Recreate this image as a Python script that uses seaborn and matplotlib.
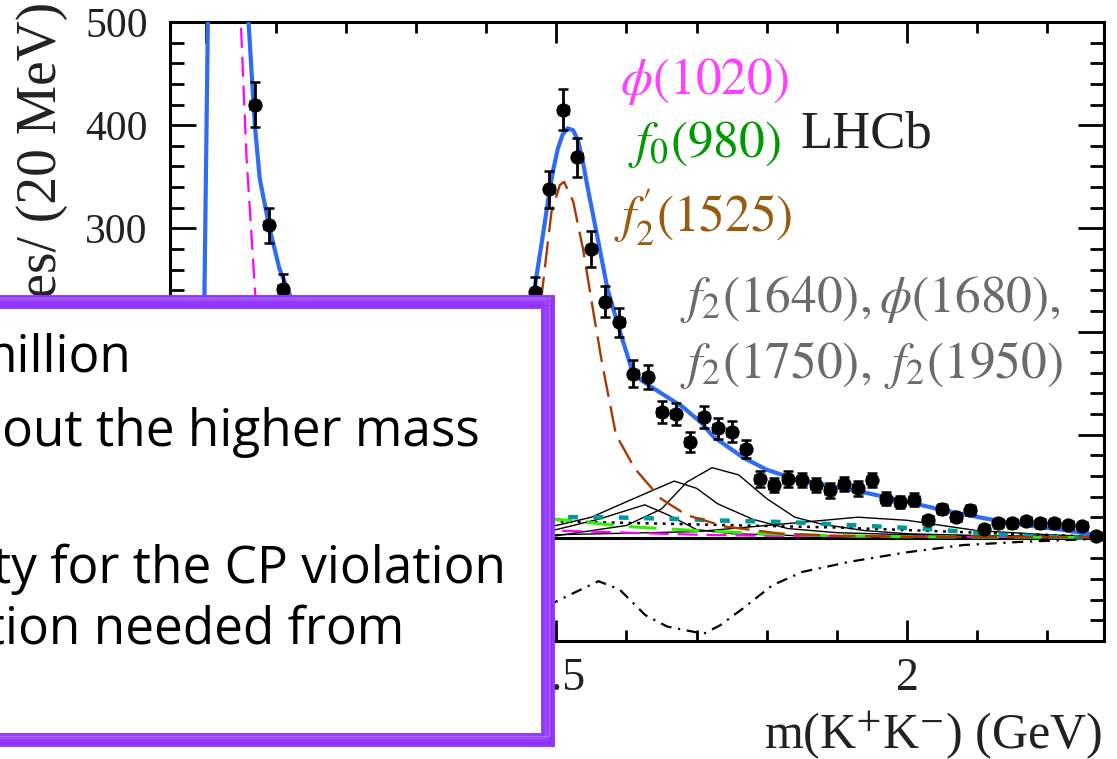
import matplotlib
matplotlib.use("Agg")
import matplotlib.pyplot as plt
import seaborn as sns
import numpy as np
import pandas as pd

# ---- data: m(K+K-) in GeV, candidates per 20 MeV ----
bin_mass = [1.07, 1.09, 1.11,
            1.47, 1.49, 1.51, 1.53, 1.55, 1.57, 1.59, 1.61, 1.63, 1.65,
            1.67, 1.69, 1.71, 1.73, 1.75, 1.77, 1.79, 1.81, 1.83, 1.85,
            1.87, 1.89, 1.91, 1.93, 1.95, 1.97, 1.99, 2.01, 2.03, 2.05,
            2.07, 2.09, 2.11, 2.13, 2.15, 2.17, 2.19, 2.21, 2.23, 2.25, 2.27]
bin_counts = [420, 303, 241,
              238, 338, 415, 369, 280, 229, 209, 159, 156, 122,
              120, 93, 117, 106, 103, 86, 57, 51, 57, 56,
              51, 46, 52, 48, 56, 38, 35, 37, 17, 28,
              20, 27, 9, 14, 14, 16, 14, 14, 12, 11, 2]
bin_errors = [22, 17, 15,
              15, 18, 20, 19, 17, 15, 14, 13, 12, 11,
              11, 10, 11, 10, 10, 9, 8, 7, 8, 7,
              7, 7, 7, 7, 7, 6, 6, 6, 4, 5,
              4, 5, 3, 4, 4, 4, 4, 4, 3, 3, 2]

# total fit
total_m = [0.990, 0.998, 1.003, 1.020, 1.061, 1.070, 1.077, 1.091, 1.105, 1.122,
           1.20, 1.30, 1.40, 1.45, 1.468, 1.480, 1.488, 1.495, 1.502, 1.509,
           1.516, 1.524, 1.531, 1.538, 1.545,
           1.559, 1.573, 1.592, 1.610, 1.636, 1.68, 1.706, 1.724, 1.766, 1.80,
           1.84, 1.893, 1.946, 2.00, 2.05, 2.11, 2.16, 2.22, 2.275]
total_v = [0, 232, 500, 3000, 500, 400, 348, 300, 261, 232,
           150, 110, 130, 190, 238, 290, 326, 355, 377, 391,
           397, 395, 385, 364, 338,
           290, 241, 197, 158, 146, 127, 112, 98, 78, 66,
           57, 50, 43, 35, 27, 19, 13, 8, 2]

# phi(1020)
phi_m = [0.990, 0.999, 1.002, 1.020, 1.050, 1.058, 1.071, 1.10, 1.20, 1.50, 1.60, 1.70, 1.80, 2.00, 2.28]
phi_v = [0, 232, 500, 2900, 500, 370, 232, 120, 30, 7, 5, 3, 2, 1, 0.5]

# f0(980)
f0_m = [1.30, 1.50, 1.60, 1.70, 1.80, 1.90, 2.00, 2.28]
f0_v = [30, 18, 11, 7, 4, 2, 1, 0.3]

# f2'(1525)
f2p_m = [1.40, 1.45, 1.479, 1.493, 1.505, 1.511, 1.524, 1.538, 1.552, 1.565,
         1.585, 1.612, 1.649, 1.686, 1.74, 1.82, 1.90, 2.00, 2.28]
f2p_v = [30, 120, 235, 316, 342, 345, 326, 280, 222, 170,
         100, 67, 38, 22, 11, 4, 2, 1, 0.3]

# non-resonant
nr_m = [1.30, 1.50, 1.57, 1.63, 1.69, 1.72, 1.78, 1.84, 1.90, 1.96, 2.02, 2.08, 2.14, 2.20, 2.26]
nr_v = [20, 20, 20, 19, 18, 17, 16, 15, 13, 11, 9, 6, 3, 1, 0]

# dotted component
dot_m = [1.30, 1.50, 1.70, 1.90, 2.10, 2.28]
dot_v = [17, 16, 13, 10, 5, 1]

# higher resonances
resA_m = [1.40, 1.50, 1.60, 1.65, 1.686, 1.722, 1.76, 1.80, 1.84, 1.88, 1.94, 2.00, 2.10, 2.28]
resA_v = [1, 2, 12, 28, 54, 68, 61, 38, 20, 13, 7, 4, 2, 1]
resB_m = [1.40, 1.50, 1.55, 1.60, 1.668, 1.70, 1.73, 1.78, 1.83, 1.90, 2.00, 2.28]
resB_v = [6, 12, 20, 35, 55, 48, 33, 18, 9, 5, 3, 1]
resC_m = [1.40, 1.50, 1.56, 1.626, 1.66, 1.70, 1.75, 1.85, 2.28]
resC_v = [3, 8, 18, 32, 22, 8, 4, 2, 0.5]
resD_m = [1.40, 1.50, 1.70, 1.80, 1.93, 2.00, 2.10, 2.20, 2.28]
resD_v = [2, 3, 6, 12, 20, 17, 7, 3, 1]

# interference
intf_m = [1.45, 1.49, 1.52, 1.56, 1.59, 1.627, 1.658, 1.71, 1.733, 1.765,
          1.808, 1.851, 1.92, 2.00, 2.08, 2.16, 2.27]
intf_v = [-70, -65, -55, -42, -50, -75, -86, -93, -85, -69,
          -46, -33, -23, -14, -7, -4, -1]

y_ticks = [0, 100, 200, 300, 400, 500]
x_ticks = [1.0, 1.5, 2.0]
x_tick_labels = ["1", "1.5", "2"]

slide_lines = ["million", "about the higher mass",
               "sensitivity for the CP violation", "information needed from"]

# ---- figure ----
W, H = 1117, 759
sns.set_theme(style="ticks")
plt.rcParams["font.family"] = ["Liberation Serif", "DejaVu Serif"]
plt.rcParams["mathtext.fontset"] = "stix"

fig = plt.figure(figsize=(W / 100, H / 100), dpi=100)
ax = fig.add_axes([170 / W, 1 - 641 / H, (1104 - 170) / W, (641 - 22) / H])
ax.set_xlim(0.949, 2.281)
ax.set_ylim(-100, 500)


def curve(m, v, color, lw, dashes=None, z=3):
    df = pd.DataFrame({"m": m, "v": v})
    sns.lineplot(data=df, x="m", y="v", ax=ax, color=color, linewidth=lw,
                 sort=False, estimator=None, zorder=z)
    line = ax.lines[-1]
    if dashes is not None:
        line.set_dashes(dashes)
    line.set_solid_capstyle("butt")
    line.set_dash_capstyle("butt")
    line.set_solid_joinstyle("round")
    return line


ax.axhline(0, color="black", lw=2.2, zorder=2)
curve(resA_m, resA_v, "black", 1.0)
curve(resB_m, resB_v, "black", 1.0)
curve(resC_m, resC_v, "black", 1.0)
curve(resD_m, resD_v, "black", 1.0)
curve(dot_m, dot_v, "black", 1.8, dashes=(1.2, 2.2))
curve(phi_m, phi_v, "#ff00ff", 1.6, dashes=(9, 4))
curve(f0_m, f0_v, "#33ee00", 2.2, dashes=(9, 5))
curve(nr_m, nr_v, "#009a9a", 3.2, dashes=(2.2, 3.5))
curve(intf_m, intf_v, "black", 1.6, dashes=(5, 3, 1, 3))
curve(f2p_m, f2p_v, "#a83a00", 1.7, dashes=(11, 4))
curve(total_m, total_v, "#2e6cf5", 3.0, z=5)

# data points with error bars
sns.scatterplot(x=bin_mass, y=bin_counts, ax=ax, color="black", s=105,
                marker="o", edgecolor="black", linewidth=0, zorder=6)
ax.errorbar(bin_mass, bin_counts, yerr=bin_errors, xerr=0.0065, fmt="none",
            ecolor="black", elinewidth=2.0, capsize=3.5, capthick=1.8, zorder=6)

# axes styling
for s in ax.spines.values():
    s.set_linewidth(2.2)
    s.set_color("black")
ax.set_yticks(y_ticks)
ax.set_yticks(np.arange(-100, 501, 20), minor=True)
ax.set_xticks(x_ticks)
ax.set_xticklabels(x_tick_labels)
ax.set_xticks(np.arange(1.0, 2.29, 0.1), minor=True)
ax.tick_params(axis="both", which="both", direction="in", top=True, right=True,
               colors="black", width=2.0)
ax.tick_params(axis="y", which="major", length=19, pad=16, labelsize=30)
ax.tick_params(axis="y", which="minor", length=10)
ax.tick_params(axis="x", which="major", length=15, pad=12, labelsize=33)
ax.tick_params(axis="x", which="minor", length=8)
for lab in ax.get_yticklabels() + ax.get_xticklabels():
    lab.set_color("#222222")
ax.set_xlabel("")
ax.set_ylabel("")

# overlay in pixel coordinates for titles, labels and the slide box
ov = fig.add_axes([0, 0, 1, 1])
ov.set_xlim(0, W)
ov.set_ylim(H, 0)
ov.axis("off")

ov.text(42, 2, "Candidates/ (20 MeV)", rotation=90, ha="center", va="top",
        fontsize=40, color="#222222")
ov.text(1102, 748, r"m(K$^{+}$K$^{-}$) (GeV)", ha="right", va="baseline",
        fontsize=36, color="#222222")

ov.text(620, 94, r"$\phi(1020)$", color="#ff40ff", fontsize=37, va="baseline")
ov.text(628, 157, r"$f_0(980)$", color="#009900", fontsize=37, va="baseline")
ov.text(800, 148, "LHCb", color="#222222", fontsize=38, va="baseline")
ov.text(614, 232, r"$f_2^{\prime}(1525)$", color="#9a5a10", fontsize=37, va="baseline")
ov.text(680, 312, r"$f_2(1640), \phi(1680),$", color="#6b6b6b", fontsize=37,
        va="baseline")
ov.text(680, 378, r"$f_2(1750),\ f_2(1950)$", color="#6b6b6b", fontsize=37,
        va="baseline")

# slide box with a hand-drawn purple frame
bx0, by0, bx1, by1 = -30, 302, 548, 740
ov.fill([bx0, bx1, bx1, bx0], [by0, by0, by1, by1], color="white", zorder=10)
ov.plot([bx0, bx1, bx1, bx0], [by0, by0, by1, by1], color="#9438ff", lw=10,
        solid_joinstyle="miter", zorder=11)
for dx, dy, c in [(-3, -2, "#a65cff"), (3, 3, "#8a2cf5"), (1, -4, "#b27aff")]:
    ov.plot([bx0, bx1 + dx, bx1 + dx, bx0], [by0 + dy, by0 + dy, by1 + dy, by1 + dy],
            color=c, lw=1.0, alpha=0.8, zorder=12)

slide_right = [131, 480, 506, 404]
slide_base = [372, 446, 583, 644]
for txt, xr, yb in zip(slide_lines, slide_right, slide_base):
    ov.text(xr, yb, txt, ha="right", va="baseline", fontsize=37,
            family=["Open Sans", "DejaVu Sans"], color="black", zorder=13)

fig.savefig("out.png", dpi=100)
